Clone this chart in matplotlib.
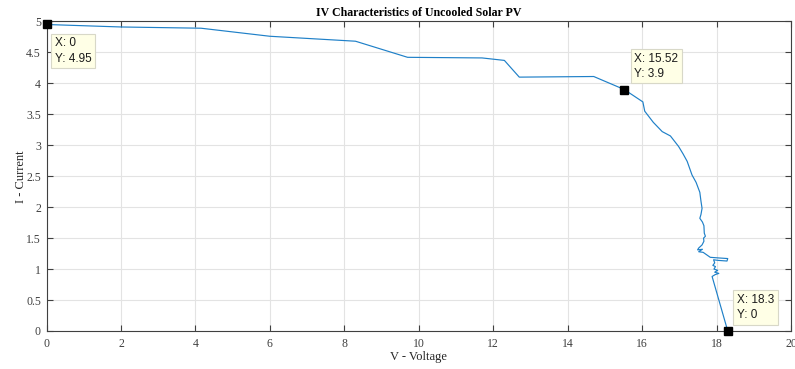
import numpy as np
import matplotlib.pyplot as plt

# IV curve
voltage = [0, 2.0, 4.15, 6.0, 8.3, 9.7, 11.7, 12.3, 12.7, 14.7, 15.52,
           16.02, 16.07, 16.3, 16.54, 16.76, 16.98, 17.1, 17.21, 17.34,
           17.45, 17.55, 17.58, 17.61, 17.58, 17.55, 17.62, 17.66, 17.67,
           17.70, 17.65, 17.66, 17.61, 17.52, 17.49, 17.62, 17.52, 17.64,
           17.83, 18.05, 18.30, 18.28, 18.05, 17.92, 17.95, 17.90, 17.97,
           17.93, 18.03, 17.95, 18.06, 17.96, 17.88, 18.3]
current = [4.95, 4.91, 4.89, 4.76, 4.68, 4.42, 4.41, 4.37, 4.10, 4.11, 3.90,
           3.70, 3.55, 3.37, 3.22, 3.15, 2.98, 2.86, 2.74, 2.52,
           2.40, 2.24, 2.10, 1.98, 1.88, 1.82, 1.76, 1.70, 1.58,
           1.53, 1.50, 1.45, 1.39, 1.34, 1.31, 1.32, 1.28, 1.27,
           1.19, 1.18, 1.17, 1.13, 1.14, 1.15, 1.10, 1.06, 1.04,
           1.00, 0.98, 0.95, 0.93, 0.91, 0.88, 0.0]

tip_x = [0, 15.52, 18.3]
tip_y = [4.95, 3.9, 0]
tip_labels = ["X: 0\nY: 4.95", "X: 15.52\nY: 3.9", "X: 18.3\nY: 0"]
tip_offsets = [(8, -13), (10, 37), (9, 37)]

serif = ['Liberation Serif', 'DejaVu Serif']
sans = ['Liberation Sans', 'DejaVu Sans']

fig = plt.figure(figsize=(7.95, 3.69), dpi=100)
ax = fig.add_axes([0.0585, 0.103, 0.9365, 0.839])

ax.plot(voltage, current, color='#1f80c8', lw=0.85)

for x, y, lab, off in zip(tip_x, tip_y, tip_labels, tip_offsets):
    ax.plot(x, y, 's', color='black', ms=6, clip_on=False, zorder=5)
    ax.annotate(lab, xy=(x, y), xytext=off, textcoords='offset pixels',
                ha='left', va='top', fontsize=8.5, family=sans, color='#1a1a1a',
                linespacing=1.35,
                bbox=dict(boxstyle='square,pad=0.3', fc='#FFFFE6', ec='#d8d8c8', lw=0.8),
                zorder=6, annotation_clip=False)

ax.set_xlim(0, 20)
ax.set_ylim(0, 5)
ax.set_xticks(np.arange(0, 21, 2))
ax.set_yticks(np.arange(0, 5.01, 0.5))
ax.set_yticklabels(['0', '0.5', '1', '1.5', '2', '2.5', '3', '3.5', '4', '4.5', '5'])
ax.grid(True, color='#e3e3e3', lw=0.8)
ax.set_axisbelow(True)
ax.tick_params(direction='in', top=True, right=True, length=4, width=0.8,
               colors='#404040', labelsize=8.5)
ax.tick_params(axis='x', pad=5)
ax.tick_params(axis='y', pad=4)
for lbl in ax.get_xticklabels() + ax.get_yticklabels():
    lbl.set_family(serif)
for s in ax.spines.values():
    s.set_color('#404040')
    s.set_linewidth(0.8)

ax.set_xlabel('V - Voltage', family=serif, fontsize=9, color='#262626', labelpad=1)
ax.set_ylabel('I - Current', family=serif, fontsize=9, color='#262626', labelpad=-1)
ax.set_title('IV Characteristics of Uncooled Solar PV', family=serif, fontsize=8.6,
             fontweight='bold', pad=4)

fig.savefig('out.png', dpi=100)
